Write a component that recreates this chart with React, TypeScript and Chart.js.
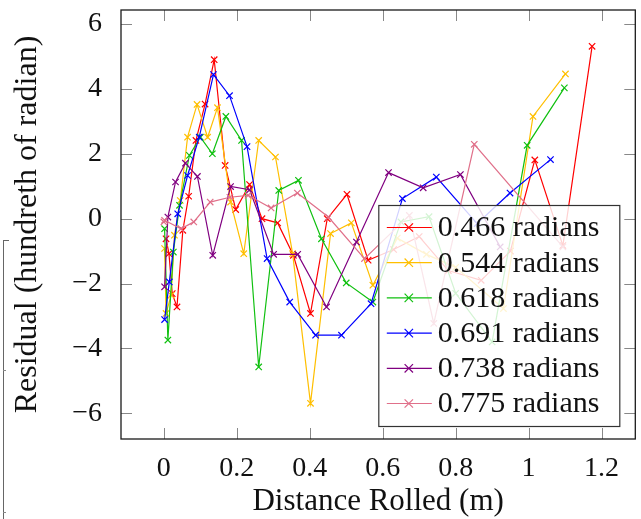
import React, { useEffect, useRef } from "react";
import { Chart, registerables } from "chart.js";

Chart.register(...registerables);

// ---- data ----
const seriesLabels = ["0.466 radians", "0.544 radians", "0.618 radians", "0.691 radians", "0.738 radians", "0.775 radians"];
const seriesColors = ["#ff0000", "#ffbf00", "#10c010", "#0000ff", "#800080", "#e0708a"];

const r466X = [0.006, 0.014, 0.023, 0.036, 0.052, 0.068, 0.088, 0.113, 0.138, 0.168, 0.197, 0.235, 0.269, 0.312, 0.355, 0.402, 0.448, 0.502, 0.56, 0.63, 0.7, 0.78, 0.87, 0.95, 1.017, 1.094, 1.174];
const r466Y = [-0.62, -1.08, -2.31, -2.72, -0.36, 0.69, 2.41, 3.53, 4.9, 1.64, 0.28, 1.05, 0.0, -0.13, -1.13, -2.92, 0.0, 0.75, -1.28, -0.95, -0.55, -1.6, -1.9, -1.0, 1.81, -0.83, 5.31];

const r544X = [0.002, 0.006, 0.02, 0.029, 0.045, 0.065, 0.091, 0.12, 0.147, 0.183, 0.219, 0.26, 0.306, 0.353, 0.402, 0.457, 0.514, 0.573, 0.64, 0.72, 0.8, 0.931, 1.012, 1.101];
const r544Y = [-0.92, -2.92, -2.36, -0.51, 0.56, 2.51, 3.52, 2.51, 3.42, 0.51, -1.08, 2.41, 1.9, -1.08, -5.69, -0.46, -0.13, -2.05, -0.6, -1.1, -1.5, -2.77, 3.15, 4.46];

const r618X = [0.002, 0.011, 0.026, 0.043, 0.07, 0.1, 0.133, 0.17, 0.213, 0.26, 0.315, 0.369, 0.432, 0.5, 0.573, 0.65, 0.727, 0.8, 0.9, 0.996, 1.098];
const r618Y = [-0.31, -3.74, -1.03, 0.41, 1.95, 2.51, 2.0, 3.15, 2.41, -4.57, 0.87, 1.18, -0.62, -1.98, -2.57, -0.1, 0.06, -2.3, -3.8, 2.26, 4.03];

const r691X = [0.002, 0.015, 0.038, 0.065, 0.097, 0.136, 0.18, 0.228, 0.283, 0.345, 0.416, 0.487, 0.568, 0.654, 0.747, 0.859, 0.949, 1.06];
const r691Y = [-3.11, -1.95, 0.15, 1.33, 2.51, 4.44, 3.79, 2.22, -1.23, -2.57, -3.59, -3.59, -2.62, 0.62, 1.28, -0.15, 0.79, 1.82];

const r738X = [0.002, 0.011, 0.032, 0.059, 0.092, 0.134, 0.183, 0.235, 0.301, 0.367, 0.446, 0.528, 0.616, 0.711, 0.813, 0.922];
const r738Y = [-2.1, 0.05, 1.13, 1.71, 1.3, -1.13, 0.99, 0.89, -1.1, -1.1, -2.72, -0.72, 1.42, 0.95, 1.36, -0.87];

const r775X = [0.0, 0.002, 0.047, 0.082, 0.127, 0.181, 0.231, 0.294, 0.366, 0.451, 0.55, 0.673, 0.74, 0.851, 1.094];
const r775Y = [-0.1, -0.05, -0.31, -0.1, 0.51, 0.66, 0.72, 0.33, 0.79, 0.05, -1.23, 0.1, -3.23, 2.29, -0.87];

const seriesX = [r466X, r544X, r618X, r691X, r738X, r775X];
const seriesY = [r466Y, r544Y, r618Y, r691Y, r738Y, r775Y];

const xTickValues = [0, 0.2, 0.4, 0.6, 0.8, 1, 1.2];
const xTickLabels = ["0", "0.2", "0.4", "0.6", "0.8", "1", "1.2"];
const yTickValues = [-6, -4, -2, 0, 2, 4, 6];
const yTickLabels = ["\u22126", "\u22124", "\u22122", "0", "2", "4", "6"];

const xAxisTitle = "Distance Rolled (m)";
const yAxisTitle = "Residual (hundreth of radian)";

const X_MIN = -0.1175, X_MAX = 1.2925;
const Y_MIN = -6.79, Y_MAX = 6.43;

const FONT = "'Liberation Serif', 'Times New Roman', serif";

const framePlugin = {
  id: "frameTicks",
  afterDatasetsDraw(chart: any) {
    const { ctx, chartArea: ca, scales } = chart;
    ctx.save();
    ctx.strokeStyle = "#888";
    ctx.lineWidth = 1;
    const tl = 11;
    ctx.beginPath();
    xTickValues.forEach((v) => {
      const px = Math.round(scales.x.getPixelForValue(v)) + 0.5;
      ctx.moveTo(px, ca.bottom); ctx.lineTo(px, ca.bottom - tl);
      ctx.moveTo(px, ca.top); ctx.lineTo(px, ca.top + tl);
    });
    yTickValues.forEach((v) => {
      const py = Math.round(scales.y.getPixelForValue(v)) + 0.5;
      ctx.moveTo(ca.left, py); ctx.lineTo(ca.left + tl, py);
      ctx.moveTo(ca.right, py); ctx.lineTo(ca.right - tl, py);
    });
    ctx.stroke();
    ctx.strokeStyle = "#1a1a1a";
    ctx.lineWidth = 1.3;
    ctx.strokeRect(ca.left, ca.top, ca.right - ca.left, ca.bottom - ca.top);
    ctx.restore();
  },
};

const legendPlugin = {
  id: "boxLegend",
  afterDraw(chart: any) {
    const { ctx, chartArea: ca } = chart;
    const w = 241, h = 221;
    const right = ca.right - 16, bottom = ca.bottom - 13;
    const left = right - w, top = bottom - h;
    ctx.save();
    ctx.fillStyle = "rgba(255,255,255,0.82)";
    ctx.fillRect(left, top, w, h);
    ctx.strokeStyle = "#333";
    ctx.lineWidth = 1.2;
    ctx.strokeRect(left + 0.5, top + 0.5, w, h);
    ctx.font = `30px ${FONT}`;
    ctx.textBaseline = "middle";
    ctx.textAlign = "left";
    seriesLabels.forEach((lab, i) => {
      const cy = top + 22.5 + i * 35.2;
      ctx.strokeStyle = seriesColors[i];
      ctx.lineWidth = 1.2;
      ctx.beginPath();
      ctx.moveTo(left + 8.5, cy); ctx.lineTo(left + 53.5, cy);
      const mx = left + 30.5, r = 4.2;
      ctx.moveTo(mx - r, cy - r); ctx.lineTo(mx + r, cy + r);
      ctx.moveTo(mx - r, cy + r); ctx.lineTo(mx + r, cy - r);
      ctx.stroke();
      ctx.fillStyle = "#111";
      ctx.fillText(lab, left + 59.5, cy + 1);
    });
    ctx.restore();
  },
};

export default function App() {
  const ref = useRef<HTMLCanvasElement | null>(null);
  useEffect(() => {
    if (!ref.current) return;
    const datasets = seriesLabels.map((lab, i) => ({
      label: lab,
      data: seriesX[i].map((x, j) => ({ x, y: seriesY[i][j] })),
      borderColor: seriesColors[i],
      backgroundColor: seriesColors[i],
      pointBorderColor: seriesColors[i],
      borderWidth: 1.2,
      pointStyle: "crossRot" as const,
      pointRadius: 4.5,
      pointBorderWidth: 1.2,
      fill: false,
      tension: 0,
      order: seriesLabels.length - i,
    }));
    const chart = new Chart(ref.current, {
      type: "line",
      data: { datasets },
      options: {
        animation: false,
        responsive: false,
        devicePixelRatio: 1,
        layout: { padding: { top: 10, right: 2, left: 0, bottom: 0 } },
        plugins: { legend: { display: false }, tooltip: { enabled: false }, title: { display: false } },
        scales: {
          x: {
            type: "linear",
            min: X_MIN,
            max: X_MAX,
            grid: { display: false },
            border: { display: false },
            afterBuildTicks: (s: any) => { s.ticks = xTickValues.map((v) => ({ value: v })); },
            afterFit: (s: any) => { s.height = 80; s.paddingLeft = 0; s.paddingRight = 0; s.paddingTop = 0; s.paddingBottom = 0; },
            ticks: {
              autoSkip: false,
              maxRotation: 0,
              padding: 5,
              color: "#111",
              font: { family: FONT, size: 28 },
              callback: (v: any) => { const k = xTickValues.indexOf(Number(v)); return k >= 0 ? xTickLabels[k] : ""; },
            },
            title: {
              display: true,
              text: xAxisTitle,
              color: "#111",
              font: { family: FONT, size: 31, lineHeight: 1.0 },
              padding: { top: 0, bottom: 1.5 },
            },
          },
          y: {
            type: "linear",
            min: Y_MIN,
            max: Y_MAX,
            grid: { display: false },
            border: { display: false },
            afterBuildTicks: (s: any) => { s.ticks = yTickValues.map((v) => ({ value: v })); },
            afterFit: (s: any) => { s.width = 121; s.paddingLeft = 0; s.paddingRight = 0; s.paddingTop = 0; s.paddingBottom = 0; },
            ticks: {
              autoSkip: false,
              padding: 11,
              color: "#111",
              font: { family: FONT, size: 28 },
              callback: (v: any) => { const k = yTickValues.indexOf(Number(v)); return k >= 0 ? yTickLabels[k] : ""; },
            },
            title: {
              display: true,
              text: yAxisTitle,
              color: "#111",
              font: { family: FONT, size: 32, lineHeight: 1.2 },
              padding: { top: 8, bottom: 0 },
            },
          },
        },
      },
      plugins: [framePlugin, legendPlugin],
    });
    return () => chart.destroy();
  }, []);
  return (
    <div style={{ position: "fixed", left: 0, top: 0, width: 641, height: 519, background: "#fff" }}>
      <canvas ref={ref} width={641} height={519} style={{ display: "block" }} />
      <div style={{ position: "absolute", left: 3, top: 240, width: 0, height: 279, borderLeft: "1px solid #666" }} />
      <div style={{ position: "absolute", left: 3, top: 240, width: 6, height: 0, borderTop: "1px solid #666" }} />
      <div style={{ position: "absolute", left: 3, top: 370, width: 3, height: 0, borderTop: "1px solid #888" }} />
      <div style={{ position: "absolute", left: 3, top: 512, width: 3, height: 0, borderTop: "1px solid #888" }} />
    </div>
  );
}
